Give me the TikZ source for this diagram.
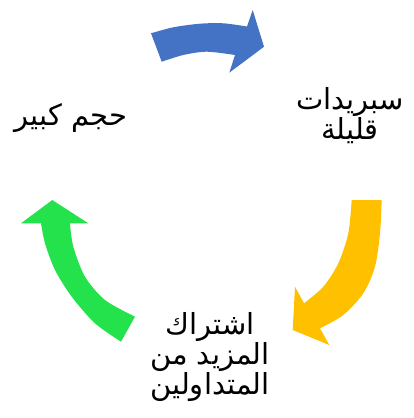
\documentclass[tikz,border=0pt]{standalone}
\usepackage{fontspec}
\TeXXeTstate=1
\newfontfamily\arabicfont[Script=Arabic]{DejaVu Sans}
\definecolor{cblue}{RGB}{68,114,196}
\definecolor{cyellow}{RGB}{255,192,0}
\definecolor{cgreen}{RGB}{35,226,76}
\tikzset{lbl/.style={font=\arabicfont\fontsize{29}{30}\selectfont, align=center, inner sep=0pt}}
\begin{document}
\begin{tikzpicture}[x=1pt,y=-1pt]
\path[use as bounding box] (0,0) rectangle (414,418);
% blue arrow
\fill[cblue] (151,33.3) -- plot[smooth] coordinates {(151,33.3) (173.3,27.3) (200,23.7) (223.3,23.3) (247,26.5)}
  -- (252.7,10) -- (264,46.7) -- (229.3,72.7) -- (235,55)
  -- plot[smooth] coordinates {(235,55) (206.7,51.7) (183.3,55) (161.7,61.7)} -- cycle;
% yellow arrow
\fill[cyellow] (351.7,200) -- (381.7,200)
  -- plot[smooth] coordinates {(381.7,200) (380,233.3) (375,266.7) (363.3,293.3) (343.3,315) (320,328.3)}
  -- (329.3,345) -- (292.7,330) -- (295,286.7) -- (304,303.3)
  -- plot[smooth] coordinates {(304,303.3) (323.3,286.7) (338.3,263.3) (348.3,233.3) (351.7,200)} -- cycle;
% green arrow
\fill[cgreen] (135,316.7) -- (121,341.7)
  -- plot[smooth] coordinates {(121,341.7) (95,323.3) (71.7,296.7) (55,270) (45,243.3) (41,223.3)}
  -- (21,223.3) -- (52.3,200) -- (88.3,223.3) -- (70,223.3)
  -- plot[smooth] coordinates {(70,223.3) (73.3,246.7) (85,276.7) (105,300) (135,316.7)} -- cycle;
\node[lbl] (big) at (71,118) {\beginR حجم كبير\endR};
\node[lbl] (spread) at (350,116) {\beginR سبريدات\endR\\\beginR قليلة\endR};
\node[lbl] (more) at (210,357) {\beginR اشتراك\endR\\\beginR المزيد من\endR\\\beginR المتداولين\endR};
\end{tikzpicture}
\end{document}
